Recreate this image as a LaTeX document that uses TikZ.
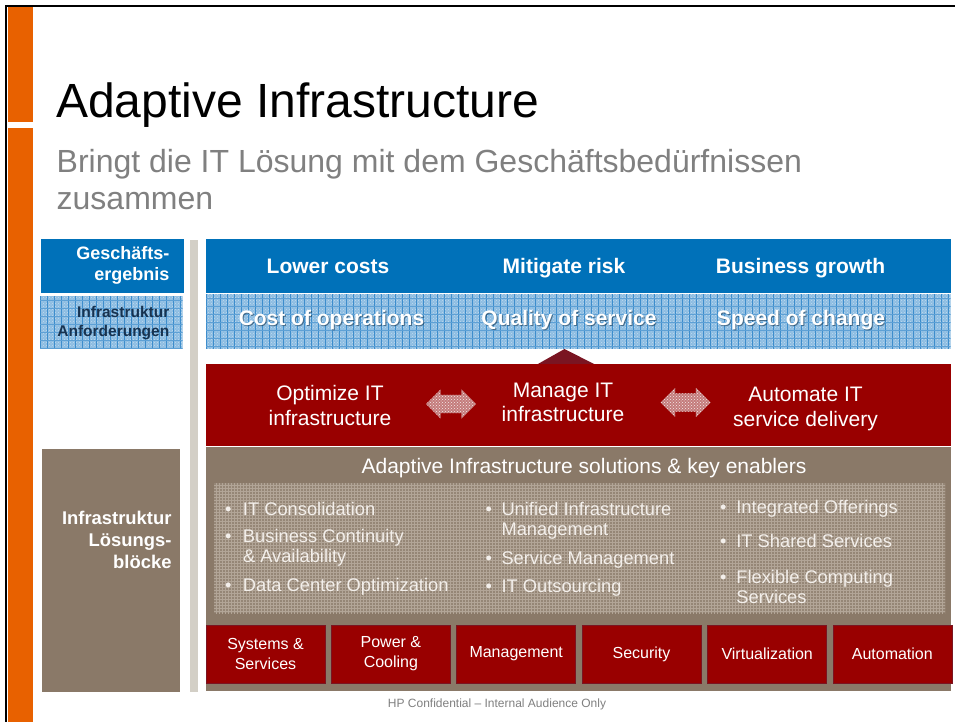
\documentclass[tikz,border=0pt]{standalone}
\usepackage{fontspec}
\setmainfont{Liberation Sans}
\usetikzlibrary{shapes.arrows,patterns}
\definecolor{hporange}{HTML}{E86100}
\definecolor{hpblue}{HTML}{0071B9}
\definecolor{hatchblue}{HTML}{8DBDE2}
\definecolor{gridblue}{HTML}{3D8DCC}
\definecolor{hpred}{HTML}{990000}
\definecolor{darkred}{HTML}{7A1522}
\definecolor{hpbrown}{HTML}{8A7968}
\definecolor{texbrown}{HTML}{958676}
\definecolor{gridbrown}{HTML}{B2A597}
\definecolor{barGrey}{HTML}{D3CFC6}
\definecolor{navytext}{HTML}{17324F}
\definecolor{subgrey}{HTML}{808080}
\definecolor{itemwhite}{HTML}{F3EFEB}
\definecolor{arrowpink}{HTML}{C47C7C}
\newcommand{\bluehatch}[4]{%
  \begin{scope}
    \clip (#1,#2) rectangle (#3,#4);
    \fill[hatchblue] (#1,#2) rectangle (#3,#4);
    \fill[pattern=crosshatch dots, pattern color=white, opacity=0.45] (#1,#2) rectangle (#3,#4);
    \foreach \gx in {0,7,...,800} \draw[gridblue, line width=0.7] ({#1+\gx},#2) -- ({#1+\gx},#4);
    \foreach \gy in {4,12,...,60} \draw[gridblue!60!hatchblue, line width=0.5] (#1,{#2+\gy}) -- (#3,{#2+\gy});
  \end{scope}}
\tikzset{
  bandtext/.style={anchor=base, inner sep=0, text=white, font=\fontsize{21}{24}\selectfont\bfseries},
  redtext/.style={anchor=base, inner sep=0, text=white, align=center, font=\fontsize{21}{24.4}\selectfont},
  sidelabel/.style={anchor=base east, inner sep=0, align=right},
  itemtext/.style={anchor=base west, inner sep=0, text=itemwhite, align=left, font=\fontsize{18.3}{20}\selectfont},
  blockbox/.style={rectangle, draw=darkred, line width=0.6, fill=hpred, text=white, align=center,
    minimum width=119, minimum height=58, inner sep=0, font=\fontsize{16}{20}\selectfont},
  twoheaded/.style={double arrow, draw=none, minimum height=50, minimum width=29, double arrow head extend=5.5,
    inner xsep=0, inner ysep=9, preaction={fill=arrowpink}, pattern=crosshatch dots, pattern color=white!85!arrowpink},
}
\begin{document}
\begin{tikzpicture}[x=1pt,y=-1pt]
\useasboundingbox (0,0) rectangle (955,722);
\fill[white] (0,0) rectangle (955,722);
% frame and orange bar
\draw[line width=2.2] (6,722) -- (6,6) -- (955,6);
\fill[hporange] (8,7.5) rectangle (33.3,121.7);
\fill[hporange] (8,127.7) rectangle (33.3,722);
% title
\node[anchor=base west, inner sep=0, font=\fontsize{48}{56}\selectfont] (title) at (56,118) {Adaptive Infrastructure};
\node[anchor=base west, inner sep=0, text=subgrey, align=left, font=\fontsize{32}{36}\selectfont] (subtitle) at (56.5,209)
  {Bringt die IT Lösung mit dem Geschäftsbedürfnissen\\zusammen};
% left column
\fill[hpblue] (41,239.3) rectangle (184,292.7);
\node[sidelabel, text=white, font=\fontsize{18}{21}\selectfont\bfseries] (lblgoal) at (169.5,280) {Geschäfts-\\ergebnis};
\bluehatch{40}{296}{182.7}{349.3}
\node[sidelabel, text=navytext, font=\fontsize{15.5}{19}\selectfont\bfseries] (lblreq) at (169.5,336) {Infrastruktur\\Anforderungen};
\fill[hpbrown] (42,449.3) rectangle (180,691.7);
\node[sidelabel, text=white, font=\fontsize{18.4}{22}\selectfont\bfseries] (lblblocks) at (171.7,568) {Infrastruktur\\Lösungs-\\blöcke};
\fill[barGrey] (190,240) rectangle (197.7,692.3);
% business outcomes band
\fill[hpblue] (206,239.3) rectangle (950.7,292.7);
\node[bandtext] (costs) at (328,273.7) {Lower costs};
\node[bandtext] (risk) at (564,273.7) {Mitigate risk};
\node[bandtext] (growth) at (800.5,273.7) {Business growth};
% infrastructure requirements band
\bluehatch{206}{294.3}{950.7}{348.7}
\node[bandtext, text=gridblue!40!black, opacity=0.6] (opsshadow) at (332.5,326.3) {Cost of operations};
\node[bandtext, text=gridblue!40!black, opacity=0.6] (qualshadow) at (570,326.3) {Quality of service};
\node[bandtext, text=gridblue!40!black, opacity=0.6] (speedshadow) at (802,326.3) {Speed of change};
\node[bandtext] (ops) at (331.5,325.3) {Cost of operations};
\node[bandtext] (qual) at (569,325.3) {Quality of service};
\node[bandtext] (speed) at (801,325.3) {Speed of change};
% red band
\fill[darkred] (537,364.5) -- (564.5,349) -- (595,364.5) -- cycle;
\fill[hpred] (206,364) rectangle (950.7,445.5);
\node[redtext] (optimize) at (330,425) {Optimize IT\\infrastructure};
\node[redtext] (manage) at (563,421.7) {Manage IT\\infrastructure};
\node[redtext] (automate) at (805.5,426) {Automate IT\\service delivery};
\node[twoheaded] (arrowleft) at (451,404) {};
\node[twoheaded] (arrowright) at (685.5,402.5) {};
% brown band
\fill[hpbrown] (206,447.3) rectangle (950.7,691);
\node[anchor=base, inner sep=0, text=white, font=\fontsize{21}{24}\selectfont] (enablers) at (584,473) {Adaptive Infrastructure solutions \& key enablers};
\fill[texbrown] (214,483) rectangle (945,613);
\fill[pattern=grid, pattern color=gridbrown] (214,483) rectangle (945,613);
% bullet items
\node[itemtext] (consol) at (225,515) {\makebox[17.8pt][l]{•}IT Consolidation};
\node[itemtext] (continuity) at (225,562.7) {\makebox[17.8pt][l]{•}Business Continuity\\\hspace*{17.8pt}\& Availability};
\node[itemtext] (dcopt) at (225,591.7) {\makebox[17.8pt][l]{•}Data Center Optimization};
\node[itemtext] (unified) at (485.5,535) {\makebox[15.8pt][l]{•}Unified Infrastructure\\\hspace*{15.8pt}Management};
\node[itemtext] (svcmgmt) at (485.5,564) {\makebox[15.8pt][l]{•}Service Management};
\node[itemtext] (outsrc) at (485.5,592) {\makebox[15.8pt][l]{•}IT Outsourcing};
\node[itemtext] (integ) at (720,513) {\makebox[16.2pt][l]{•}Integrated Offerings};
\node[itemtext] (shared) at (720,547) {\makebox[16.2pt][l]{•}IT Shared Services};
\node[itemtext] (flex) at (720,603) {\makebox[16.2pt][l]{•}Flexible Computing\\\hspace*{16.2pt}Services};
% solution blocks
\node[blockbox] (sys) at (265.5,654) {Systems \&\\Services};
\node[blockbox] (power) at (390.9,654) {Power \&\\Cooling};
\node[blockbox] (mgmt) at (516.2,654) {Management};
\node[blockbox] (sec) at (641.5,654) {Security};
\node[blockbox] (virt) at (767.2,654) {Virtualization};
\node[blockbox] (auto) at (892.3,654) {Automation};
% footer
\node[anchor=base, inner sep=0, text=subgrey, font=\fontsize{12}{14}\selectfont] (footer) at (497,707.7) {HP Confidential – Internal Audience Only};
\end{tikzpicture}
\end{document}
